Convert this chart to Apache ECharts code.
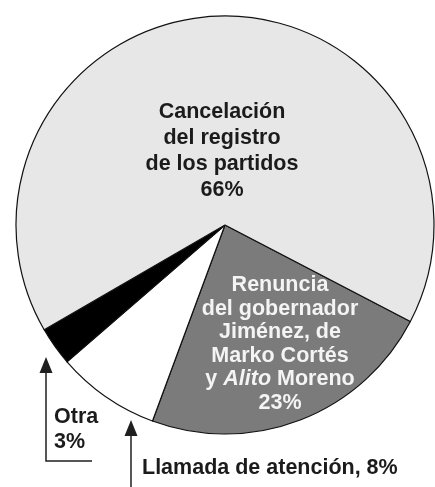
<!DOCTYPE html>
<html><head><meta charset="utf-8">
<script src="https://cdn.jsdelivr.net/npm/echarts@6/dist/echarts.min.js"></script>
<style>html,body{margin:0;padding:0;background:#fff}#c{width:435px;height:487px}</style>
</head><body><div id="c"></div>
<script>
const categories = ['Renuncia del gobernador Jiménez, de Marko Cortés y Alito Moreno', 'Llamada de atención', 'Otra', 'Cancelación del registro de los partidos'];
const values = [23, 8, 3, 66];
const labelLines = [
  ['Renuncia', 'del gobernador', 'Jiménez, de', 'Marko Cortés', 'y {i|Alito} Moreno'],
  ['Llamada de atención,'],
  ['Otra'],
  ['Cancelación', 'del registro', 'de los partidos']
];

const colors = ['#7b7b7b', '#ffffff', '#000000', '#e7e7e7'];
const labelPos = [[280, 344, 'center'], [142, 468, 'left'], [54, 430, 'left'], [222, 151, 'center']];
const FONT = '"Liberation Sans", Arial, sans-serif';
const FS = 21.5;

const chart = echarts.init(document.getElementById('c'), null, {renderer: 'canvas'});

function fmt(p) {
  const i = p.dataIndex;
  if (i === 1) return labelLines[i].join('\n') + ' ' + p.value + '%';
  return labelLines[i].join('\n') + '\n' + p.value + '%';
}

const data = categories.map((n, i) => {
  const white = i === 0;
  const lh = i === 0 ? 23.6 : (i === 3 ? 26 : 25);
  const col = white ? '#f4f4f4' : '#1b1b1b';
  return {
    name: n, value: values[i],
    itemStyle: {color: colors[i]},
    label: {
      color: col,
      lineHeight: lh,
      rich: {i: {fontStyle: 'italic', fontWeight: 'bold', fontSize: FS, fontFamily: FONT, color: col, lineHeight: lh}}
    }
  };
});

const ink = '#1f1f1f';
chart.setOption({
  backgroundColor: '#fff',
  animation: false,
  series: [{
    type: 'pie',
    center: [225, 225],
    radius: 209,
    startAngle: -27.5,
    clockwise: true,
    avoidLabelOverlap: false,
    itemStyle: {borderColor: '#111', borderWidth: 1.2},
    label: {
      show: true, position: 'inside', formatter: fmt,
      fontFamily: FONT, fontWeight: 'bold', fontSize: FS, align: 'center'
    },
    labelLine: {show: false},
    labelLayout: function (params) {
      const p = labelPos[params.dataIndex];
      return {x: p[0], y: p[1], align: p[2], verticalAlign: 'middle'};
    },
    emphasis: {disabled: true},
    data: data
  }],
  graphic: [
    {type: 'polyline', shape: {points: [[46, 370], [46, 461], [92, 461]]}, style: {stroke: ink, lineWidth: 1.5, fill: null}},
    {type: 'polygon', shape: {points: [[46, 357], [39.5, 373], [52.5, 373]]}, style: {fill: ink}},
    {type: 'line', shape: {x1: 131, y1: 432, x2: 131, y2: 487}, style: {stroke: ink, lineWidth: 1.5}},
    {type: 'polygon', shape: {points: [[131, 420], [124.5, 436], [137.5, 436]]}, style: {fill: ink}}
  ]
});
</script></body></html>
